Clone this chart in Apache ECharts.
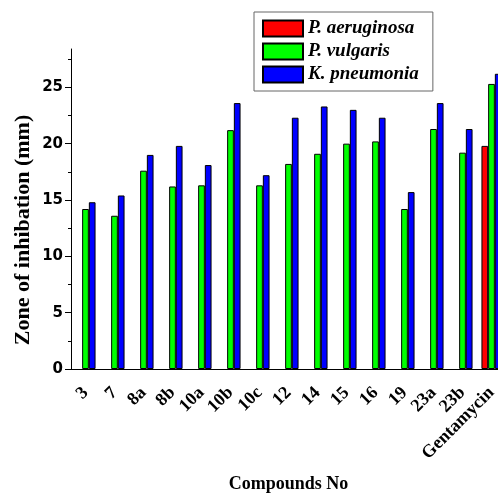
<!DOCTYPE html>
<html>
<head>
<meta charset="utf-8">
<script src="https://cdn.jsdelivr.net/npm/echarts@6/dist/echarts.min.js"></script>
<style>
  html, body { margin: 0; padding: 0; background: #fff; }
  #main { width: 498px; height: 493px; }
</style>
</head>
<body>
<div id="main"></div>
<script>
    // data
    var compounds = ['3', '7', '8a', '8b', '10a', '10b', '10c', '12', '14', '15', '16', '19', '23a', '23b', 'Gentamycin'];
    var aeruginosa = ['-', '-', '-', '-', '-', '-', '-', '-', '-', '-', '-', '-', '-', '-', 19.8];
    var vulgaris = [14.2, 13.6, 17.6, 16.2, 16.3, 21.2, 16.3, 18.2, 19.1, 20.0, 20.2, 14.2, 21.3, 19.2, 25.3];
    var pneumonia = [14.8, 15.4, 19.0, 19.8, 18.1, 23.6, 17.2, 22.3, 23.3, 23.0, 22.3, 15.7, 23.6, 21.3, 26.2];
    var yTicks = [0, 5, 10, 15, 20, 25];
    var yMinorTicks = [2.5, 7.5, 12.5, 17.5, 22.5, 27.5];

    var myChart = echarts.init(document.getElementById('main'));

    var serif = '"Liberation Serif", "Times New Roman", serif';
    var barStyle = function (c) {
        return {color: c, borderColor: '#000', borderWidth: 1};
    };

    var option = {
        backgroundColor: '#fff',
        animation: false,
        grid: {
            left: 71,
            right: -8,
            top: 49,
            bottom: 124,
            outerBoundsMode: 'none'
        },
        legend: {
            orient: 'vertical',
            left: 254,
            top: 12,
            padding: [7, 14, 7, 8],
            icon: 'rect',
            itemWidth: 40,
            itemHeight: 16,
            itemGap: 4,
            borderColor: '#666',
            borderWidth: 1,
            textStyle: {
                fontFamily: serif,
                fontWeight: 'bold',
                fontStyle: 'italic',
                fontSize: 19,
                color: '#000'
            },
            data: ['P. aeruginosa', 'P. vulgaris', 'K. pneumonia']
        },
        xAxis: [
            {
                type: 'category',
                data: compounds,
                name: 'Compounds No',
                nameLocation: 'middle',
                nameGap: 106,
                nameTextStyle: {fontFamily: serif, fontWeight: 'bold', fontSize: 18, color: '#000'},
                axisLine: {lineStyle: {color: '#000', width: 1}},
                axisTick: {alignWithLabel: true, length: 6, interval: 0, lineStyle: {color: '#000'}},
                axisLabel: {
                    interval: 0,
                    rotate: 45,
                    margin: 21,
                    fontFamily: serif,
                    fontWeight: 'bold',
                    fontSize: 18,
                    color: '#000'
                }
            },
            {
                type: 'category',
                data: compounds,
                axisLine: {show: false},
                axisTick: {length: 3, interval: 0, lineStyle: {color: '#000'}},
                axisLabel: {show: false}
            }
        ],
        yAxis: [
            {
                type: 'value',
                min: 0,
                max: 28.4,
                interval: 5,
                splitLine: {show: false},
                axisLine: {show: true, lineStyle: {color: '#000', width: 1}},
                axisTick: {show: true, length: 6, customValues: yTicks, lineStyle: {color: '#000'}},
                axisLabel: {
                    customValues: yTicks,
                    margin: 8,
                    fontFamily: '"DejaVu Sans", Arial, sans-serif',
                    fontWeight: 'bold',
                    fontSize: 15,
                    color: '#000'
                }
            },
            {
                type: 'value',
                min: 0,
                max: 28.4,
                interval: 5,
                position: 'left',
                splitLine: {show: false},
                axisLine: {show: false},
                axisTick: {show: true, length: 3, customValues: yMinorTicks, lineStyle: {color: '#000'}},
                axisLabel: {show: false}
            }
        ],
        graphic: [
            {
                type: 'text',
                x: 23,
                y: 230,
                rotation: Math.PI / 2,
                style: {
                    text: 'Zone of inhibation (mm)',
                    fontFamily: serif,
                    fontWeight: 'bold',
                    fontSize: 22,
                    fill: '#000',
                    align: 'center',
                    verticalAlign: 'middle'
                }
            }
        ],
        series: [
            {name: 'P. aeruginosa', type: 'bar', data: aeruginosa, barWidth: 6.7, barGap: '0%', itemStyle: barStyle('#ff0000')},
            {name: 'P. vulgaris', type: 'bar', data: vulgaris, barWidth: 6.7, barGap: '0%', itemStyle: barStyle('#00ff00')},
            {name: 'K. pneumonia', type: 'bar', data: pneumonia, barWidth: 6.7, barGap: '0%', itemStyle: barStyle('#0000ff')}
        ]
    };

    myChart.setOption(option);
</script>
</body>
</html>
